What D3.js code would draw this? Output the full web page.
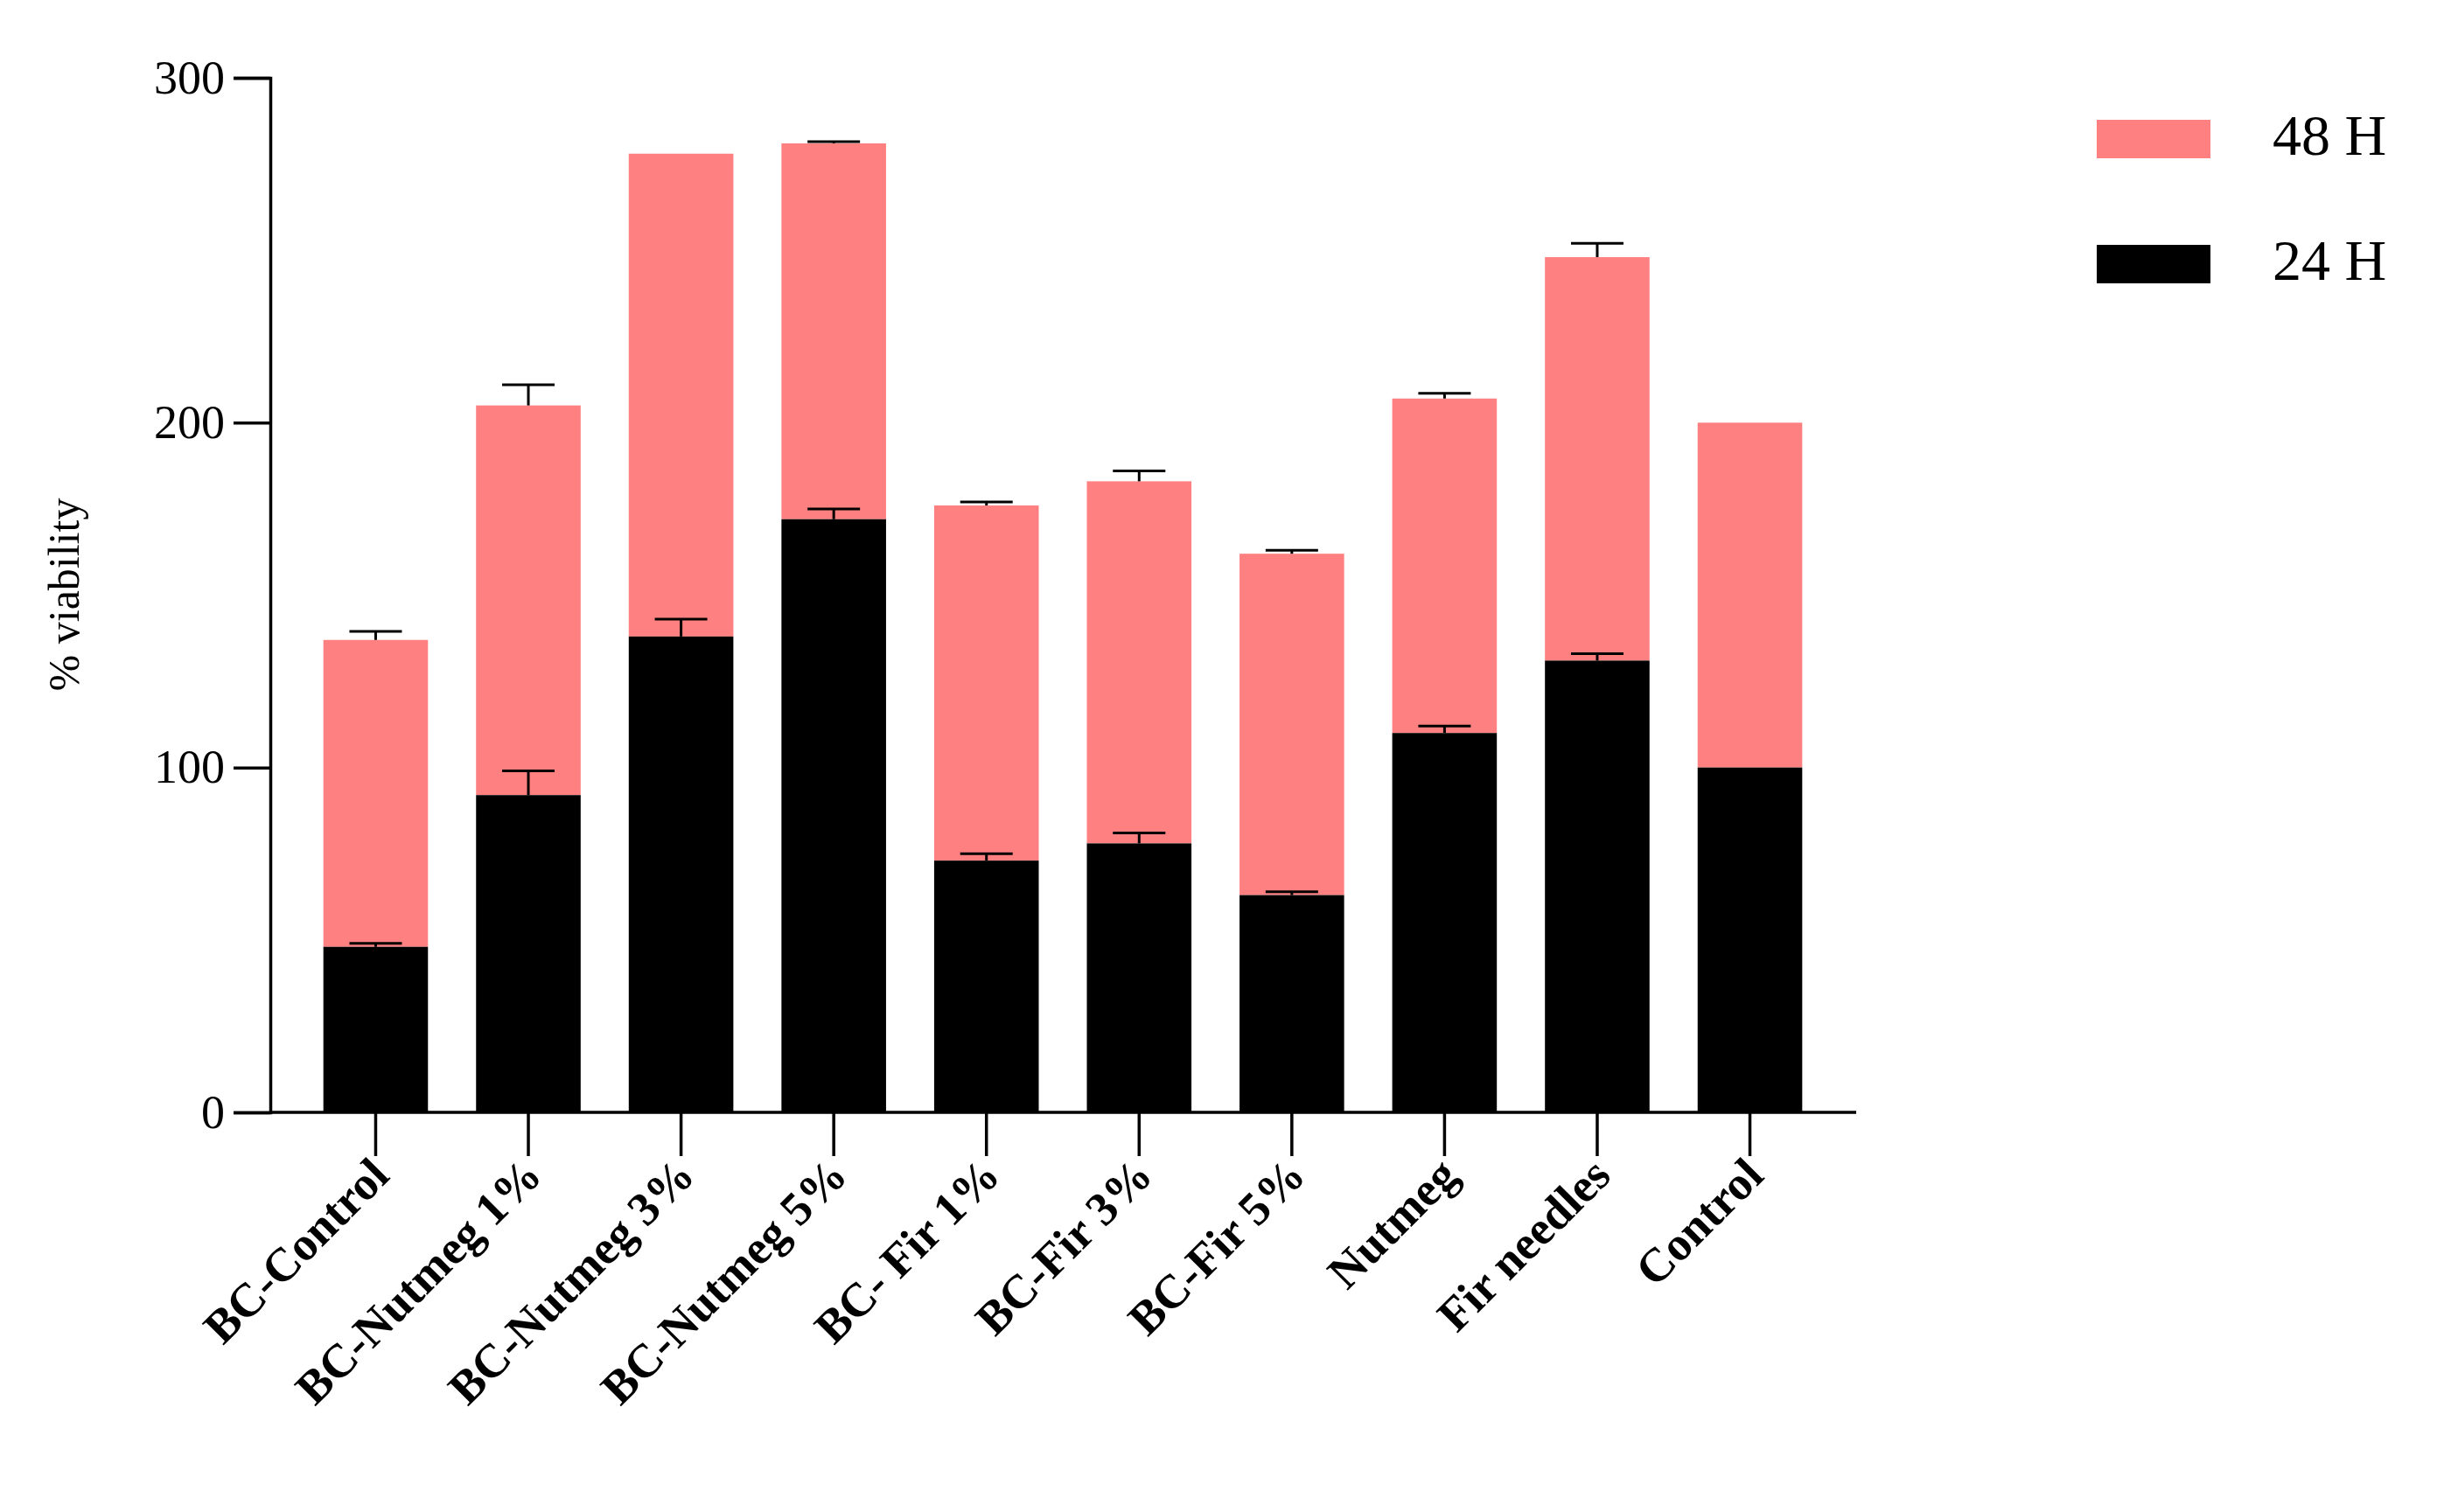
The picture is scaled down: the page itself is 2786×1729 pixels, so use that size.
<!DOCTYPE html>
<html><head><meta charset="utf-8">
<script src="https://cdn.jsdelivr.net/npm/d3@7"></script>
<style>body{margin:0;background:#fff}</style></head>
<body><svg id="c" width="2786" height="1729"></svg>
<script>
const categories=["BC-Control","BC-Nutmeg 1%","BC-Nutmeg 3%","BC-Nutmeg 5%","BC- Fir 1%","BC-Fir 3%","BC-Fir 5%","Nutmeg","Fir needles","Control"];
const h24=[48,92,138,172,73,78,63,110,131,100];
const h24err=[1,7,5,3,2,3,1,2,2,0];
const h48=[89,113,140,109,103,105,99,97,117,100];
const h48err=[2.5,6,0,0.5,1,3,1,1.5,4,0];
const yTicks=[0,100,200,300];
const seriesNames=["48 H","24 H"];
const colors=["#ff8080","#000000"];

const svg=d3.select("#c");
const font="'Liberation Serif','Times New Roman',serif";
const y=d3.scaleLinear().domain([0,300]).range([1272,89]);
const x=d3.scaleBand().domain(categories).range([340,2090]).paddingInner(0.315).paddingOuter(0.17);
const g=svg.append("g");
categories.forEach((c,i)=>{
  const x0=x(c),w=x.bandwidth(),cx=x0+w/2;
  const top=h24[i]+h48[i];
  g.append("rect").attr("x",x0).attr("width",w).attr("y",y(top)).attr("height",y(h24[i])-y(top)).attr("fill",colors[0]);
  g.append("rect").attr("x",x0).attr("width",w).attr("y",y(h24[i])).attr("height",y(0)-y(h24[i])).attr("fill",colors[1]);
  [[h24[i],h24err[i]],[top,h48err[i]]].forEach(([v,e])=>{
    if(e<=0)return;
    g.append("line").attr("x1",cx).attr("x2",cx).attr("y1",y(v)).attr("y2",y(v+e)).attr("stroke","#000").attr("stroke-width",3);
    g.append("line").attr("x1",cx-30).attr("x2",cx+30).attr("y1",y(v+e)).attr("y2",y(v+e)).attr("stroke","#000").attr("stroke-width",3);
  });
});
const ya=svg.append("g").attr("transform","translate(309,0)").call(d3.axisLeft(y).tickValues(yTicks).tickSize(42).tickPadding(10));
ya.select(".domain").attr("stroke-width",3.5);
ya.selectAll(".tick line").attr("stroke-width",3.5);
ya.selectAll("text").attr("font-family",font).attr("font-size",54);
const xa=svg.append("g").attr("transform","translate(0,1272)").call(d3.axisBottom(x).tickSize(0).tickSizeOuter(0));
xa.select(".domain").attr("d","M309,0H2122").attr("stroke-width",3.5);
xa.selectAll(".tick text").remove();
xa.selectAll(".tick").append("line").attr("y1",0).attr("y2",50).attr("stroke","#000").attr("stroke-width",3.5);
xa.selectAll(".tick").append("text").text(d=>d).attr("font-family",font).attr("font-weight","bold").attr("font-size",54).attr("fill","#000")
  .attr("text-anchor","end").attr("transform","translate(18,75) rotate(-45)");
svg.append("text").text("% viability").attr("font-family",font).attr("font-size",50)
  .attr("text-anchor","middle").attr("transform","translate(90,680) rotate(-90)");
seriesNames.forEach((s,i)=>{
  const yy=137+i*143;
  svg.append("rect").attr("x",2397).attr("y",yy).attr("width",130).attr("height",44).attr("fill",colors[i]);
  svg.append("text").text(s).attr("x",2598).attr("y",yy+40).attr("font-family",font).attr("font-size",66);
});
</script></body></html>
